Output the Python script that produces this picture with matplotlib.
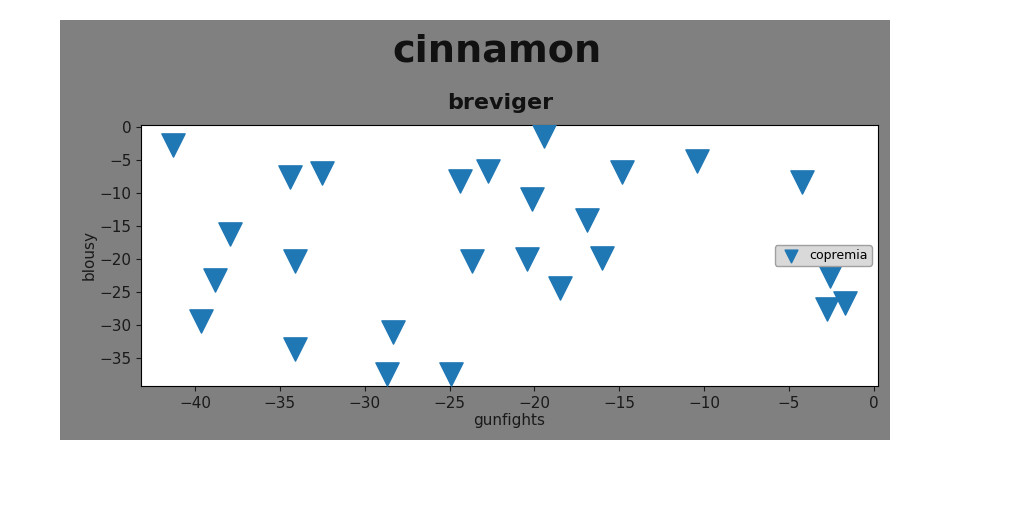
import matplotlib
matplotlib.use("Agg")
import matplotlib.pyplot as plt
from matplotlib.patches import Rectangle

# data
gunfights = [-41.28, -34.40, -32.50, -37.94, -38.82, -39.65, -34.11, -34.09,
             -28.32, -28.71, -24.92, -24.39, -22.76, -23.67, -20.13, -20.43,
             -19.45, -18.50, -16.93, -16.01, -14.87, -10.40, -4.25, -2.60,
             -2.74, -1.72]
blousy = [-2.85, -7.7, -7.05, -16.3, -23.3, -29.4, -20.4, -33.7,
          -31.05, -37.55, -37.55, -8.3, -6.77, -20.4, -11.0, -20.0,
          -1.4, -24.5, -14.2, -19.9, -6.83, -5.13, -8.35, -22.7,
          -27.6, -26.7]
series_name = "copremia"
title = "cinnamon"
subtitle = "breviger"

W, H = 1024, 512
fig = plt.figure(figsize=(W / 100, H / 100), dpi=100, facecolor="white")
fig.patches.append(Rectangle((60 / W, 1 - 440 / H), 830 / W, 420 / H,
                             transform=fig.transFigure, facecolor="#808080",
                             edgecolor="none", zorder=-10))

ax = fig.add_axes([141 / W, 1 - 386 / H, (878 - 141) / W, (386 - 125) / H])
ax.set_zorder(1)
ax.set_facecolor("white")
ax.scatter(gunfights, blousy, marker="v", s=280, color="#1f77b4",
           label=series_name, zorder=3)
ax.set_xlim(-43.18, 0.24)
ax.set_ylim(-39.3, 0.25)
ax.set_xticks([-40, -35, -30, -25, -20, -15, -10, -5, 0])
ax.set_yticks([0, -5, -10, -15, -20, -25, -30, -35])
ax.tick_params(labelsize=11, colors="#1a1a1a")
ax.set_xlabel("gunfights", fontsize=11, color="#1a1a1a", labelpad=2)
ax.set_ylabel("blousy", fontsize=11, color="#1a1a1a", labelpad=2)

leg = ax.legend(loc="center right", fontsize=9, markerscale=0.55,
                facecolor="#d9d9d9", edgecolor="#a0a0a0", framealpha=1,
                handletextpad=0.5, borderpad=0.3)

fig.text(497 / W, 1 - 52 / H, title, ha="center", va="center",
         fontsize=27.5, fontweight="bold", color="#111111")
fig.text(500 / W, 1 - 103 / H, subtitle, ha="center", va="center",
         fontsize=16, fontweight="bold", color="#111111")

fig.savefig("out.png", dpi=100)
